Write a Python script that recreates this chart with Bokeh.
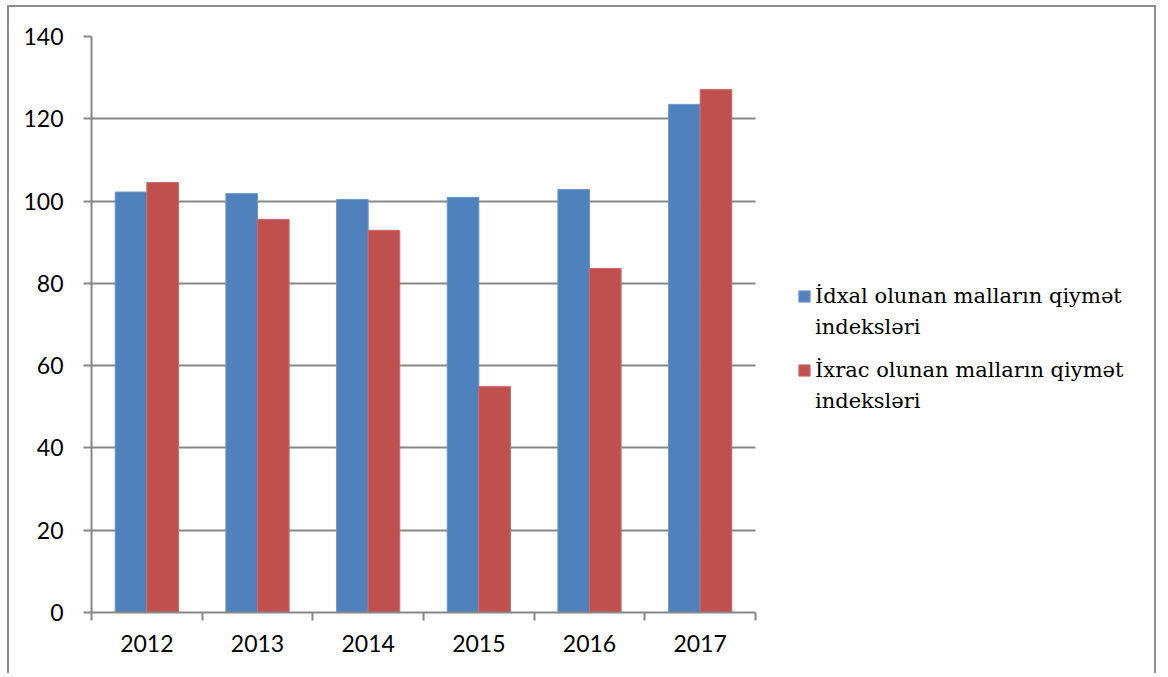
from bokeh.plotting import figure
from bokeh.models import ColumnDataSource, FixedTicker, Legend, LegendItem, Range1d, BoxAnnotation
from bokeh.embed import file_html
from bokeh.resources import INLINE

years = ["2012", "2013", "2014", "2015", "2016", "2017"]
import_idx = [102.2, 101.8, 100.4, 100.9, 102.8, 123.5]
export_idx = [104.5, 95.5, 92.9, 54.9, 83.6, 127.1]
series_names = ["İdxal olunan malların qiymət\nindeksləri",
                "İxrac olunan malların qiymət\nindeksləri"]
y_ticks = [0, 20, 40, 60, 80, 100, 120, 140]

n = len(years)
bw = 1 / 3.5
centers = [i + 0.5 for i in range(n)]
src = ColumnDataSource(dict(
    xb=[c - bw / 2 for c in centers],
    xr=[c + bw / 2 for c in centers],
    imp=import_idx, exp=export_idx))

W, H = 1149, 668
left, top, bottom = 82, 29, 63
plot_w = 664                      # width of the category area in px
frame_w = W - left
x_end = n * frame_w / plot_w

p = figure(width=W, height=H, output_backend="svg", toolbar_location=None,
           x_range=Range1d(0, x_end), y_range=Range1d(0, 140),
           min_border_left=left, min_border_right=0, min_border_top=top, min_border_bottom=bottom)
p.outline_line_color = None
p.styles = {"border-top": "2px solid #8c8c8c", "border-left": "2px solid #8c8c8c",
            "border-right": "2px solid #8c8c8c", "margin-left": "7px", "margin-top": "5px"}

grey = "#878787"
p.xgrid.grid_line_color = None
p.ygrid.ticker = FixedTicker(ticks=y_ticks)
p.ygrid.grid_line_color = grey
p.ygrid.grid_line_width = 2
# hide grid lines beyond the category area
p.add_layout(BoxAnnotation(left=n, fill_color="white", fill_alpha=1, line_color=None, level="underlay"))

blue = "#4F81BD"
red = "#C0504D"
rb = p.vbar(x="xb", top="imp", width=bw, source=src, fill_color=blue, line_color="#6f97c9", line_width=1)
rr = p.vbar(x="xr", top="exp", width=bw, source=src, fill_color=red, line_color="#cc6a68", line_width=1)
# invisible renderer used for the second line of each legend label
empty = ColumnDataSource(dict(x=[], top=[]))
rnone = p.vbar(x="x", top="top", width=bw, source=empty, fill_alpha=0, line_alpha=0)

# x axis
p.xaxis.bounds = (0, n)
p.xaxis.ticker = FixedTicker(ticks=centers, minor_ticks=list(range(n + 1)))
p.xaxis.major_label_overrides = {c: y for c, y in zip(centers, years)}
p.xaxis.major_tick_out = 0
p.xaxis.major_tick_in = 0
p.xaxis.minor_tick_out = 8
p.xaxis.minor_tick_in = 0
p.xaxis.minor_tick_line_color = grey
p.xaxis.minor_tick_line_width = 2
p.xaxis.axis_line_color = grey
p.xaxis.axis_line_width = 2
p.xaxis.major_label_text_font = "Lato"
p.xaxis.major_label_text_font_size = "23px"
p.xaxis.major_label_text_color = "#000000"
p.xaxis.major_label_standoff = 14

# y axis
p.yaxis.ticker = FixedTicker(ticks=y_ticks)
p.yaxis.major_tick_out = 8
p.yaxis.major_tick_in = 0
p.yaxis.minor_tick_line_color = None
p.yaxis.major_tick_line_color = grey
p.yaxis.major_tick_line_width = 2
p.yaxis.axis_line_color = grey
p.yaxis.axis_line_width = 2
p.yaxis.major_label_text_font = "Lato"
p.yaxis.major_label_text_font_size = "23px"
p.yaxis.major_label_text_color = "#000000"
p.yaxis.major_label_standoff = 20

first_lines = [s.split("\n")[0] for s in series_names]
second_lines = [s.split("\n")[1] for s in series_names]


def style(lg):
    lg.label_text_font = "DejaVu Serif"
    lg.label_text_font_size = "21px"
    lg.label_text_color = "#000000"
    lg.glyph_width = 14
    lg.glyph_height = 14
    lg.label_height = 29
    lg.label_standoff = 4
    lg.spacing = 45
    lg.padding = 0
    lg.margin = 0
    lg.border_line_color = None
    lg.background_fill_alpha = 0


legend1 = Legend(items=[LegendItem(label=first_lines[0], renderers=[rb]),
                        LegendItem(label=first_lines[1], renderers=[rr])],
                 location=(706, 228))
legend2 = Legend(items=[LegendItem(label=second_lines[0], renderers=[rnone]),
                        LegendItem(label=second_lines[1], renderers=[rnone])],
                 location=(706, 197))
style(legend1)
style(legend2)
p.add_layout(legend1, "center")
p.add_layout(legend2, "center")

open("out.html", "w").write(file_html(p, INLINE))
